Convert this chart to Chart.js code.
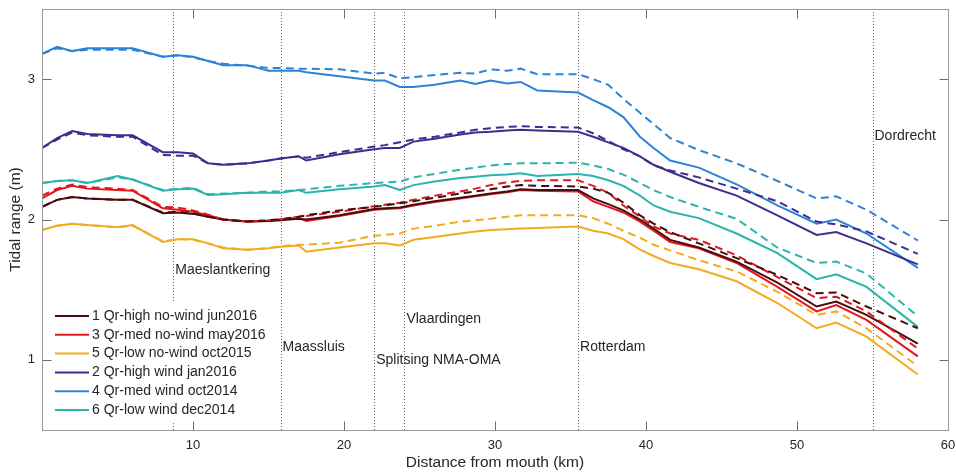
<!DOCTYPE html>
<html lang="en">
<head>
<meta charset="utf-8">
<title>Tidal range along the river</title>
<script src="https://cdn.jsdelivr.net/npm/chart.js@4.4.1/dist/chart.umd.min.js"></script>
<style>
  html, body { margin: 0; padding: 0; background: #fff; }
</style>
</head>
<body>
<canvas id="tidalChart" width="956" height="474"></canvas>
<script>
// distance from mouth (km), shared by every run
const km = [0, 1, 2, 3, 5, 6,
            8, 9, 10, 11, 12,
            13.6, 15, 15.8, 17, 17.5, 19.7,
            22, 22.7, 23.7, 24.6,
            26, 27.7, 28.7, 29.7, 30.8, 31.7, 32.8,
            35.5, 36.5, 37.5, 38.5, 39.6,
            40.5, 41.6, 43.5, 46, 48.7,
            51.3, 52.6, 54.6, 58];

// solid lines (tidal range, m)
const hiNoWind = [2.09, 2.14, 2.16, 2.15, 2.14, 2.14,
  2.045, 2.05, 2.04, 2.02, 2.00,
  1.985, 1.99, 1.995, 2.005, 2.00, 2.03,
  2.075, 2.08, 2.085, 2.105,
  2.13, 2.155, 2.17, 2.185, 2.20, 2.215, 2.21,
  2.21, 2.15, 2.11, 2.065, 2.00,
  1.935, 1.855, 1.80, 1.70, 1.55,
  1.38, 1.415, 1.32, 1.115];
const medNoWind = [2.15, 2.21, 2.24, 2.22, 2.21, 2.205,
  2.08, 2.07, 2.055, 2.03, 2.00,
  1.985, 1.99, 2.00, 2.01, 1.99, 2.025,
  2.07, 2.075, 2.08, 2.10,
  2.125, 2.15, 2.165, 2.18, 2.195, 2.21, 2.205,
  2.20, 2.13, 2.09, 2.05, 1.985,
  1.92, 1.84, 1.795, 1.69, 1.52,
  1.345, 1.39, 1.285, 1.025];
const lowNoWind = [1.925, 1.955, 1.97, 1.96, 1.945, 1.96,
  1.84, 1.86, 1.86, 1.83, 1.795,
  1.785, 1.795, 1.805, 1.815, 1.77, 1.80,
  1.83, 1.83, 1.815, 1.855,
  1.875, 1.90, 1.915, 1.925, 1.93, 1.935, 1.94,
  1.95, 1.92, 1.90, 1.86, 1.785,
  1.74, 1.69, 1.645, 1.56, 1.405,
  1.225, 1.265, 1.165, 0.895];
const hiWind = [2.51, 2.58, 2.63, 2.61, 2.60, 2.60,
  2.48, 2.48, 2.47, 2.40, 2.39,
  2.40, 2.42, 2.435, 2.45, 2.42, 2.465,
  2.50, 2.51, 2.51, 2.555,
  2.575, 2.605, 2.62, 2.625, 2.635, 2.64, 2.635,
  2.625, 2.59, 2.55, 2.51, 2.45,
  2.39, 2.34, 2.26, 2.17, 2.03,
  1.89, 1.91, 1.83, 1.68];
const medWind = [3.18, 3.23, 3.20, 3.22, 3.22, 3.22,
  3.16, 3.17, 3.16, 3.13, 3.10,
  3.10, 3.06, 3.06, 3.06, 3.05, 3.02,
  2.99, 2.99, 2.945, 2.945,
  2.96, 2.99, 2.965, 2.99, 2.97, 2.98, 2.92,
  2.905, 2.85, 2.80, 2.73, 2.59,
  2.51, 2.42, 2.37, 2.25, 2.10,
  1.97, 2.00, 1.90, 1.655];
const lowWind = [2.26, 2.275, 2.28, 2.26, 2.31, 2.285,
  2.205, 2.215, 2.22, 2.175, 2.18,
  2.19, 2.19, 2.19, 2.21, 2.19, 2.215,
  2.235, 2.245, 2.21, 2.245,
  2.27, 2.295, 2.305, 2.315, 2.32, 2.33, 2.31,
  2.325, 2.31, 2.28, 2.24, 2.17,
  2.10, 2.055, 2.01, 1.90, 1.76,
  1.575, 1.61, 1.52, 1.235];

// dashed lines
const hiNoWindDash = [2.09, 2.14, 2.16, 2.15, 2.14, 2.14,
  2.05, 2.055, 2.045, 2.02, 2.00,
  1.985, 1.995, 2.00, 2.02, 2.03, 2.065,
  2.09, 2.10, 2.115, 2.13,
  2.155, 2.185, 2.20, 2.215, 2.235, 2.245, 2.24,
  2.235, 2.22, 2.19, 2.12, 2.03,
  1.97, 1.91, 1.83, 1.725, 1.605,
  1.475, 1.48, 1.38, 1.225];
const medNoWindDash = [2.17, 2.22, 2.25, 2.23, 2.22, 2.21,
  2.09, 2.085, 2.065, 2.035, 2.00,
  1.985, 1.995, 2.00, 2.02, 2.025, 2.055,
  2.095, 2.105, 2.12, 2.14,
  2.17, 2.20, 2.22, 2.245, 2.265, 2.275, 2.28,
  2.28, 2.24, 2.19, 2.10, 2.02,
  1.95, 1.90, 1.855, 1.745, 1.59,
  1.44, 1.45, 1.345, 1.08];
const lowNoWindDash = [1.925, 1.955, 1.97, 1.96, 1.945, 1.955,
  1.845, 1.86, 1.855, 1.83, 1.80,
  1.785, 1.795, 1.81, 1.82, 1.82, 1.835,
  1.885, 1.89, 1.90, 1.935,
  1.955, 1.985, 1.995, 2.005, 2.02, 2.03, 2.03,
  2.03, 2.01, 1.97, 1.92, 1.87,
  1.82, 1.78, 1.71, 1.63, 1.485,
  1.32, 1.345, 1.225, 0.955];
const hiWindDash = [2.51, 2.57, 2.62, 2.60, 2.59, 2.59,
  2.46, 2.455, 2.455, 2.40, 2.39,
  2.40, 2.42, 2.435, 2.45, 2.44, 2.48,
  2.52, 2.53, 2.55, 2.57,
  2.59, 2.62, 2.64, 2.65, 2.66, 2.665, 2.66,
  2.655, 2.615, 2.56, 2.50, 2.45,
  2.385, 2.35, 2.30, 2.22, 2.13,
  1.985, 1.965, 1.915, 1.755];
const medWindDash = [3.18, 3.22, 3.20, 3.21, 3.21, 3.21,
  3.16, 3.17, 3.155, 3.13, 3.11,
  3.095, 3.08, 3.08, 3.075, 3.075, 3.07,
  3.04, 3.045, 3.005, 3.015,
  3.03, 3.045, 3.04, 3.07, 3.06, 3.075, 3.035,
  3.035, 3.00, 2.96, 2.86, 2.76,
  2.68, 2.58, 2.495, 2.40, 2.275,
  2.15, 2.165, 2.07, 1.85];
const lowWindDash = [2.26, 2.275, 2.28, 2.26, 2.30, 2.285,
  2.21, 2.22, 2.225, 2.18, 2.185,
  2.19, 2.20, 2.20, 2.21, 2.215, 2.24,
  2.26, 2.265, 2.27, 2.30,
  2.325, 2.355, 2.37, 2.385, 2.395, 2.40, 2.40,
  2.405, 2.385, 2.36, 2.32, 2.26,
  2.21, 2.16, 2.09, 2.005, 1.80,
  1.69, 1.70, 1.615, 1.31];

const runLabels = ['1 Qr-high no-wind jun2016', '3 Qr-med no-wind may2016', '5 Qr-low no-wind oct2015',
                   '2 Qr-high wind jan2016', '4 Qr-med wind oct2014', '6 Qr-low wind dec2014'];
const runColors = ['#4a0c0e', '#e3171e', '#f2aa1f', '#3d2e8e', '#2b83d8', '#2bb3ad'];
const solidRuns = [hiNoWind, medNoWind, lowNoWind, hiWind, medWind, lowWind];
const dashedRuns = [hiNoWindDash, medNoWindDash, lowNoWindDash, hiWindDash, medWindDash, lowWindDash];

// stations along the river (km) and the height (m) where their name sits
const stationKm = [8.7, 15.8, 22, 24, 35.5, 55];
const stationNames = ['Maeslantkering', 'Maassluis', 'Splitsing NMA-OMA', 'Vlaardingen', 'Rotterdam', 'Dordrecht'];
const stationLabelY = [1.64, 1.09, 0.995, 1.29, 1.09, 2.595];

const xTicks = [10, 20, 30, 40, 50, 60];
const yTicks = [1, 2, 3];

const FONT = '"Liberation Sans", Arial, Helvetica, sans-serif';
const TEXT = '#262626';

function toPoints(vals) {
  return vals.map((v, i) => ({ x: km[i], y: v }));
}

const datasets = [];
dashedRuns.forEach((vals, i) => {
  datasets.push({ label: runLabels[i] + ' (dashed)', data: toPoints(vals), borderColor: runColors[i],
    borderWidth: 2, borderDash: [8, 5], pointRadius: 0, tension: 0, fill: false });
});
solidRuns.forEach((vals, i) => {
  datasets.push({ label: runLabels[i], data: toPoints(vals), borderColor: runColors[i],
    borderWidth: 2, pointRadius: 0, tension: 0, fill: false });
});

// dotted station lines below the data, station names and legend on top
const stationPlugin = {
  id: 'stations',
  beforeDatasetsDraw(chart) {
    const { ctx, chartArea: a, scales: { x } } = chart;
    ctx.save();
    ctx.strokeStyle = '#6a6a6a';
    ctx.lineWidth = 1;
    ctx.setLineDash([1, 2]);
    stationKm.forEach(k => {
      const px = Math.round(x.getPixelForValue(k)) + 0.5;
      ctx.beginPath();
      ctx.moveTo(px, a.top);
      ctx.lineTo(px, a.bottom);
      ctx.stroke();
    });
    ctx.restore();
  },
  afterDatasetsDraw(chart) {
    const { ctx, chartArea: a, scales: { x, y } } = chart;
    ctx.save();
    ctx.font = '14px ' + FONT;
    ctx.fillStyle = TEXT;
    ctx.textBaseline = 'middle';
    ctx.textAlign = 'left';
    stationNames.forEach((name, i) => {
      ctx.fillText(name, x.getPixelForValue(stationKm[i]) + 2, y.getPixelForValue(stationLabelY[i]));
    });

    // legend, solid runs only
    const lx = a.left + 2, ly = a.bottom - 127;
    ctx.fillStyle = '#fff';
    ctx.fillRect(lx, ly, 226, 118);
    runLabels.forEach((lab, i) => {
      const ry = a.bottom - 114 + i * 18.8;
      ctx.strokeStyle = runColors[i];
      ctx.lineWidth = 2;
      ctx.beginPath();
      ctx.moveTo(a.left + 13, ry);
      ctx.lineTo(a.left + 47, ry);
      ctx.stroke();
      ctx.fillStyle = TEXT;
      ctx.fillText(lab, a.left + 50, ry);
    });
    ctx.restore();
  }
};

// box around the axes with inward tick marks on all four sides
const framePlugin = {
  id: 'frame',
  afterDraw(chart) {
    const { ctx, chartArea: a, scales: { x, y } } = chart;
    const L = Math.round(a.left) + 0.5, R = Math.round(a.right) + 0.5;
    const T = Math.round(a.top) + 0.5, B = Math.round(a.bottom) + 0.5;
    ctx.save();
    ctx.strokeStyle = '#6e6e6e';
    ctx.lineWidth = 1;
    ctx.beginPath();
    xTicks.forEach(v => {
      const px = Math.round(x.getPixelForValue(v)) + 0.5;
      ctx.moveTo(px, B); ctx.lineTo(px, B - 9);
      ctx.moveTo(px, T); ctx.lineTo(px, T + 9);
    });
    yTicks.forEach(v => {
      const py = Math.round(y.getPixelForValue(v)) + 0.5;
      ctx.moveTo(L, py); ctx.lineTo(L + 9, py);
      ctx.moveTo(R, py); ctx.lineTo(R - 9, py);
    });
    ctx.stroke();
    ctx.strokeStyle = '#9a9a9a';
    ctx.strokeRect(L, T, R - L, B - T);
    ctx.restore();
  }
};

Chart.defaults.font.family = FONT;
Chart.defaults.color = TEXT;

new Chart(document.getElementById('tidalChart'), {
  type: 'line',
  data: { datasets: datasets },
  options: {
    responsive: false,
    animation: false,
    layout: { padding: { top: 9, right: 8, left: 0, bottom: 0 } },
    plugins: { legend: { display: false }, tooltip: { enabled: false } },
    scales: {
      x: {
        type: 'linear',
        min: 0, max: 60,
        afterBuildTicks: s => { s.ticks = xTicks.map(v => ({ value: v })); },
        afterFit: s => { s.height = 44; s.paddingLeft = 0; s.paddingRight = 0; },
        grid: { display: false, drawTicks: false },
        border: { display: false },
        ticks: { font: { size: 13 }, color: TEXT, padding: 8, maxRotation: 0 },
        title: { display: true, text: 'Distance from mouth (km)', font: { size: 15.5 }, color: TEXT,
                 padding: { top: 0, bottom: 2 } }
      },
      y: {
        min: 0.5, max: 3.5,
        afterBuildTicks: s => { s.ticks = yTicks.map(v => ({ value: v })); },
        afterFit: s => { s.width = 42; s.paddingTop = 0; s.paddingBottom = 0; },
        grid: { display: false, drawTicks: false },
        border: { display: false },
        ticks: { font: { size: 13 }, color: TEXT, padding: 7 },
        title: { display: true, text: 'Tidal range (m)', font: { size: 15.5 }, color: TEXT,
                 padding: { top: 6, bottom: 0 } }
      }
    }
  },
  plugins: [stationPlugin, framePlugin]
});
</script>
</body>
</html>
